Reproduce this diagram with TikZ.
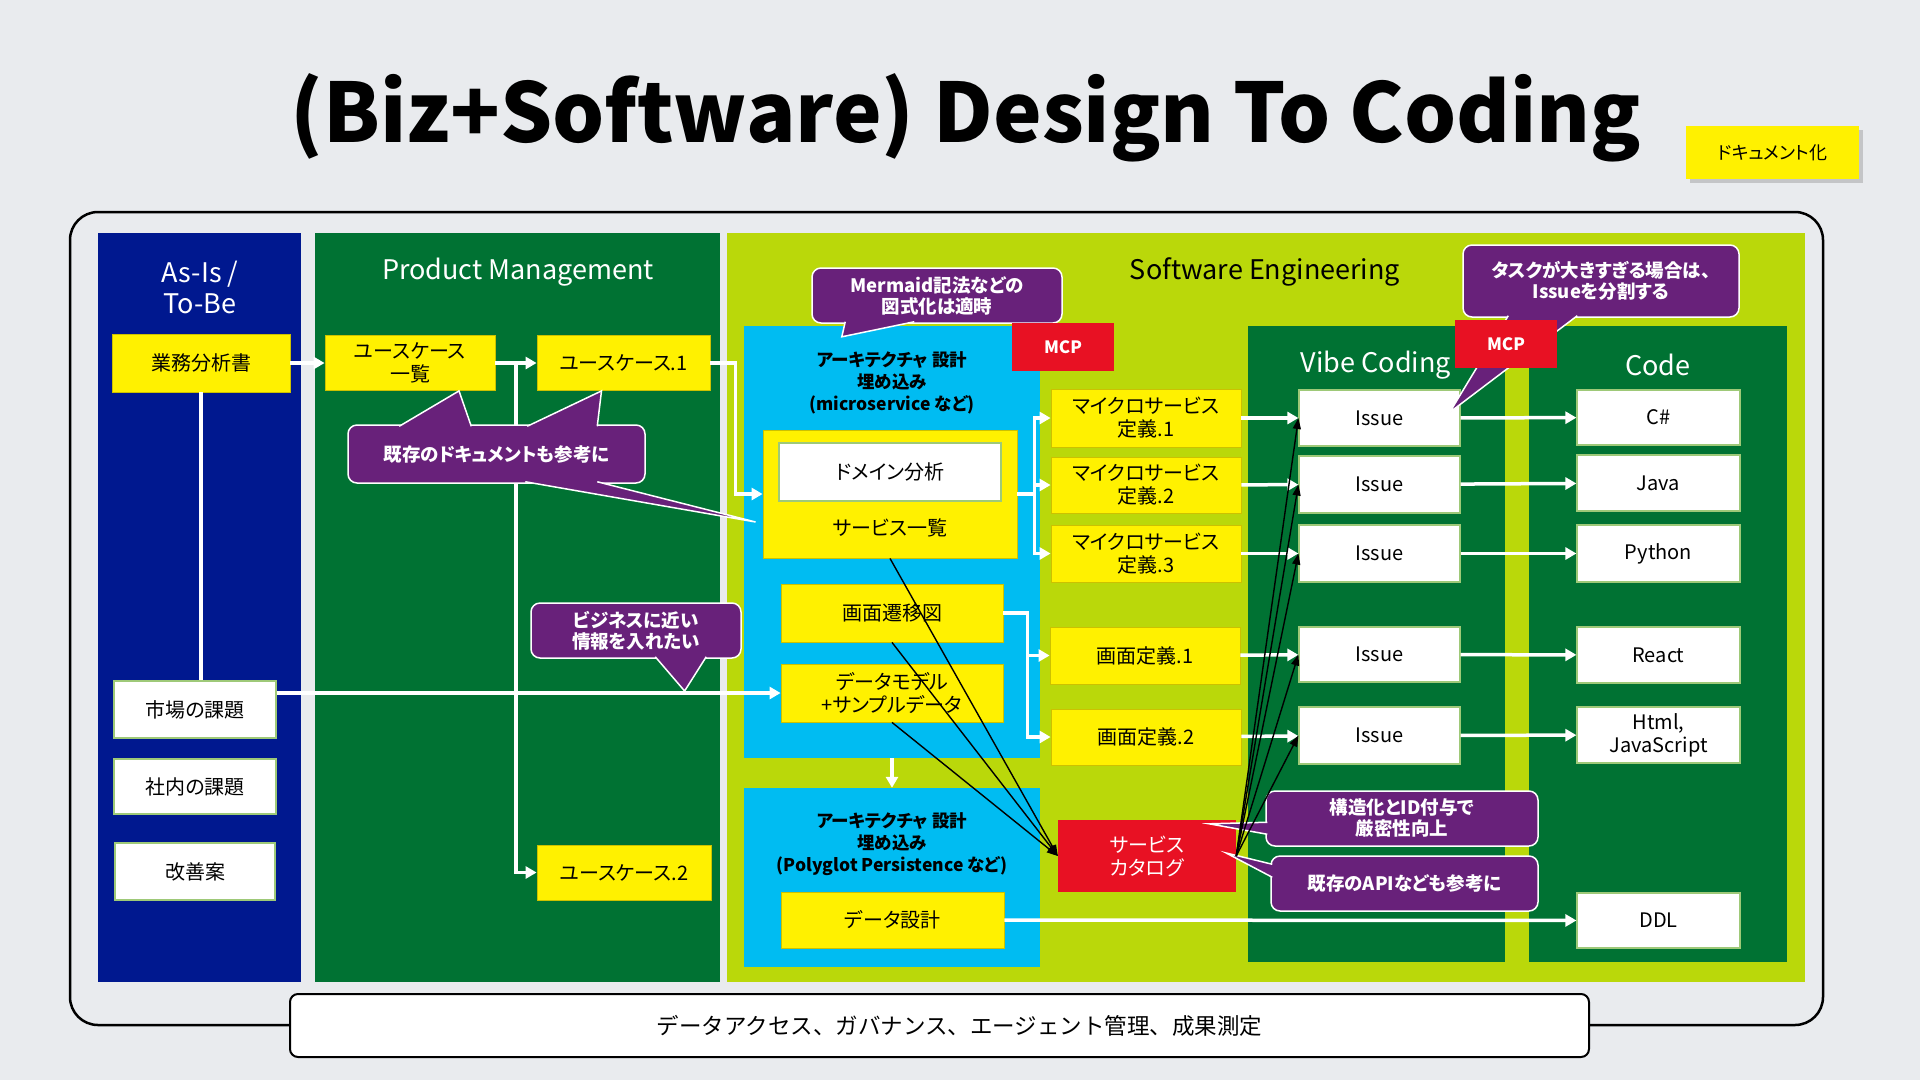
\documentclass[tikz,border=0pt]{standalone}
\usepackage{fontspec}
\setmainfont{Noto Sans CJK JP}[RawFeature=+palt]
\newfontfamily\jpwide{Noto Sans CJK JP}
\usetikzlibrary{arrows.meta,calc,shadows}

\definecolor{bgcol}{HTML}{E9EBEE}
\definecolor{msblue}{HTML}{00188F}
\definecolor{msgreen}{HTML}{007233}
\definecolor{mslime}{HTML}{BAD80A}
\definecolor{mscyan}{HTML}{00BCF2}
\definecolor{msyellow}{HTML}{FFF100}
\definecolor{msred}{HTML}{E81123}
\definecolor{mspurple}{HTML}{68217A}

\tikzset{
  box/.style={rectangle, inner sep=0pt, align=center, text=black, font=\fontsize{20}{23}\selectfont},
  ybox/.style={box, fill=msyellow, draw=msyellow!80!black, line width=0.8pt},
  wbox/.style={box, fill=white, draw=mslime!50!msgreen!60, line width=1.2pt},
  rbox/.style={box, fill=msred, text=white},
  mcpbox/.style={rbox, font=\bfseries\fontsize{17}{20}\selectfont},
  callout/.style={rectangle, rounded corners=9pt, fill=mspurple, draw=white, line width=1.5pt,
    text=white, align=center, inner sep=0pt, font=\bfseries\fontsize{18.5}{21}\selectfont},
  colhead/.style={align=center, font=\fontsize{27}{31}\selectfont},
  archtitle/.style={align=center, font=\bfseries\fontsize{17.5}{22}\selectfont},
  wline/.style={draw=white, line width=3.5pt},
  warrow/.style={wline, -{Triangle[length=11pt,width=12pt]}},
  barrow/.style={draw=black, line width=1.4pt, -{Triangle[length=11pt,width=8pt]}},
}

% pointer of a callout: base1, tip, base2
\newcommand{\calltip}[3]{%
  \fill[mspurple] (#1) -- (#2) -- (#3) -- cycle;
  \draw[white, line width=1.5pt] (#1) -- (#2) -- (#3);}

\begin{document}
\begin{tikzpicture}[x=1pt,y=-1pt]
\useasboundingbox (0,0) rectangle (1920,1080);
\fill[bgcol] (0,0) rectangle (1920,1080);
\draw[line width=2.5pt, rounded corners=28pt] (70,212) rectangle (1823,1025);

% columns
\fill[msblue] (98,233) rectangle (301,982);
\fill[msgreen] (315,233) rectangle (720,982);
\fill[mslime] (727,233) rectangle (1805,982);
\fill[msgreen] (1248,326) rectangle (1505,962);
\fill[msgreen] (1529,326) rectangle (1787,962);

\node[colhead, text=white] (asis) at (200,287) {As-Is /\\To-Be};
\node[colhead, text=white] (pm) at (518,272) {Product Management};
\node[colhead] (se) at (1265,272) {Software Engineering};
\node[colhead, text=white] (vibe) at (1376,365) {Vibe Coding};
\node[colhead, text=white] (code) at (1658,365) {Code};

% architecture blocks
\node[fill=mscyan, minimum width=296pt, minimum height=432pt] (arch1) at (892,542) {};
\node[fill=mscyan, minimum width=296pt, minimum height=179pt] (arch2) at (892,877.5) {};
\node[archtitle] (arch1t) at (892,383) {アーキテクチャ 設計\\埋め込み\\(microservice など)};
\node[archtitle] (arch2t) at (892,844) {アーキテクチャ 設計\\埋め込み\\(Polyglot Persistence など)};

% as-is / pm
\node[ybox, minimum width=178pt, minimum height=58pt] (biz) at (201,363) {業務分析書};
\node[ybox, minimum width=170pt, minimum height=55pt] (ucl) at (410,363) {ユースケース\\一覧};
\node[ybox, minimum width=173pt, minimum height=55pt] (uc1) at (623.5,363) {ユースケース.1};
\node[ybox, minimum width=174pt, minimum height=55pt] (uc2) at (624,872.5) {ユースケース.2};
\node[wbox, minimum width=162pt, minimum height=57pt] (market) at (195,709.5) {市場の課題};
\node[wbox, minimum width=162pt, minimum height=55pt] (inhouse) at (195,786.5) {社内の課題};
\node[wbox, minimum width=160pt, minimum height=57pt] (kaizen) at (195,871.5) {改善案};

\node[ybox, minimum width=254pt, minimum height=128pt] (svcbox) at (890,494) {};
\node[wbox, minimum width=222pt, minimum height=58pt] (domain) at (890,472) {ドメイン分析};
\node[box] (svclist) at (890,528) {サービス一覧};
\node[ybox, minimum width=222pt, minimum height=58pt] (screen) at (892,613) {画面遷移図};
\node[ybox, minimum width=222pt, minimum height=58pt] (dmodel) at (892,693) {データモデル\\+サンプルデータ};
\node[ybox, minimum width=223pt, minimum height=56pt] (ddesign) at (892.5,920) {データ設計};

\node[ybox, minimum width=190pt, minimum height=58pt] (ms1) at (1146,418) {マイクロサービス\\定義.1};
\node[ybox, minimum width=190pt, minimum height=56pt] (ms2) at (1146,485) {マイクロサービス\\定義.2};
\node[ybox, minimum width=190pt, minimum height=57pt] (ms3) at (1146,553.5) {マイクロサービス\\定義.3};
\node[ybox, minimum width=190pt, minimum height=57pt] (sd1) at (1145,655.5) {画面定義.1};
\node[ybox, minimum width=190pt, minimum height=56pt] (sd2) at (1146,737) {画面定義.2};
\node[rbox, minimum width=178pt, minimum height=72pt] (catalog) at (1147,856) {サービス\\カタログ};

\foreach \n/\y/\h in {1/418/56, 2/484.5/57, 3/553.5/57, 4/654.5/55, 5/735.5/57}
  \node[wbox, minimum width=161pt, minimum height=\h pt] (is\n) at (1379.5,\y) {Issue};

\node[wbox, minimum width=163pt, minimum height=55pt] (csharp) at (1658.5,417.5) {C\#};
\node[wbox, minimum width=163pt, minimum height=56pt] (java) at (1658.5,483) {Java};
\node[wbox, minimum width=163pt, minimum height=57pt] (python) at (1658.5,553.5) {Python};
\node[wbox, minimum width=163pt, minimum height=56pt] (react) at (1658.5,655) {React};
\node[wbox, minimum width=163pt, minimum height=56pt] (html) at (1658.5,735) {Html,\\JavaScript};
\node[wbox, minimum width=163pt, minimum height=55pt] (ddl) at (1658.5,920.5) {DDL};

% white flow
\draw[warrow] (biz) -- (ucl);
\draw[warrow] (ucl) -- (uc1);
\coordinate (ucfork) at ($(ucl.east)!0.5!(uc1.west)$);
\draw[warrow] (ucfork) |- (uc2.west);
\draw[wline] (biz.south) -- (biz.south |- market.north);
\draw[warrow] (market.east |- dmodel.west) -- (dmodel.west);
\draw[warrow] (uc1.east) -- ++(25,0) |- (svcbox.west);
\foreach \m in {ms1,ms2,ms3}
  \draw[warrow] (svcbox.east) -- ++(17,0) |- (\m.west);
\foreach \m in {sd1,sd2}
  \draw[warrow] (screen.east) -- ++(24,0) |- (\m.west);
\draw[warrow] (arch1.south) -- (arch2.north);
\foreach \a/\b in {ms1/is1, ms2/is2, ms3/is3, sd1/is4, sd2/is5}
  \draw[warrow] (\a) -- (\b);
\foreach \a/\b in {is1/csharp, is2/java, is3/python, is4/react, is5/html}
  \draw[warrow] (\a) -- (\b);
\draw[warrow] (ddesign) -- (ddl);

% callouts
\node[callout, minimum width=297pt, minimum height=58pt] (cref) at (496.5,454) {既存のドキュメントも参考に};
\calltip{$(cref.north west)+(52,2)$}{$(ucl.south)+(49,0)$}{$(cref.north west)+(124,2)$}
\calltip{$(cref.north west)+(180,2)$}{$(uc1.south)+(-22,0)$}{$(cref.north west)+(250,2)$}
\calltip{$(cref.south west)+(178,-2)$}{$(svcbox.west)+(-7,28)$}{$(cref.south west)+(250,-2)$}

\node[callout, minimum width=250pt, minimum height=55pt] (cmer) at (937,295.5) {Mermaid記法などの\\図式化は適時};
\calltip{$(cmer.south west)+(34,-2)$}{$(arch1.north west)+(98,11)$}{$(cmer.south west)+(103,-2)$}

\node[callout, minimum width=210pt, minimum height=55pt] (cbiz) at (636,630.5) {ビジネスに近い\\情報を入れたい};
\calltip{$(cbiz.south west)+(125,-2)$}{$(dmodel.west)+(-96,-2)$}{$(cbiz.south west)+(176,-2)$}

\node[callout, minimum width=276pt, minimum height=72pt] (ctask) at (1601,281) {タスクが大きすぎる場合は、\\Issueを分割する};
\calltip{$(ctask.south west)+(46,-2)$}{$(is1.north east)+(-11,23)$}{$(ctask.south west)+(115,-2)$}

\node[callout, minimum width=272pt, minimum height=55pt] (cstruct) at (1402,818.5) {構造化とID付与で\\厳密性向上};
\calltip{$(cstruct.north west)+(2,32)$}{$(catalog.north east)+(-27,4)$}{$(cstruct.north west)+(2,44)$}

\node[callout, minimum width=267pt, minimum height=55pt] (capi) at (1404.5,883.5) {既存のAPIなども参考に};
\calltip{$(capi.north west)+(2,9)$}{$(catalog.east)+(-10,-3)$}{$(capi.north west)+(2,22)$}

\node[mcpbox, minimum width=102pt, minimum height=48pt] (mcp1) at (1063,347) {MCP};
\node[mcpbox, minimum width=102pt, minimum height=48pt] (mcp2) at (1506,344) {MCP};

% catalog links
\foreach \s in {svcbox, screen, dmodel}
  \draw[barrow] (\s.south) -- (catalog.west);
\foreach \n in {1,...,5}
  \draw[barrow] (catalog.east) -- (is\n.west);

\node[draw, line width=2pt, fill=white, rounded corners=8pt, minimum width=1299pt, minimum height=63pt,
  font=\jpwide\fontsize{22.5}{26}\selectfont] (footer) at (939.5,1025.5) {\hspace*{40pt}データアクセス、ガバナンス、エージェント管理、成果測定};

\node[box, fill=msyellow, minimum width=173pt, minimum height=53pt, font=\fontsize{18}{20}\selectfont,
  drop shadow={shadow xshift=4pt, shadow yshift=-4pt, opacity=0.35}] (docify) at (1772.5,152.5) {ドキュメント化};

\node[font=\bfseries\fontsize{82}{90}\selectfont] (title) at (966,118) {(Biz+Software) Design To Coding};
\end{tikzpicture}
\end{document}
